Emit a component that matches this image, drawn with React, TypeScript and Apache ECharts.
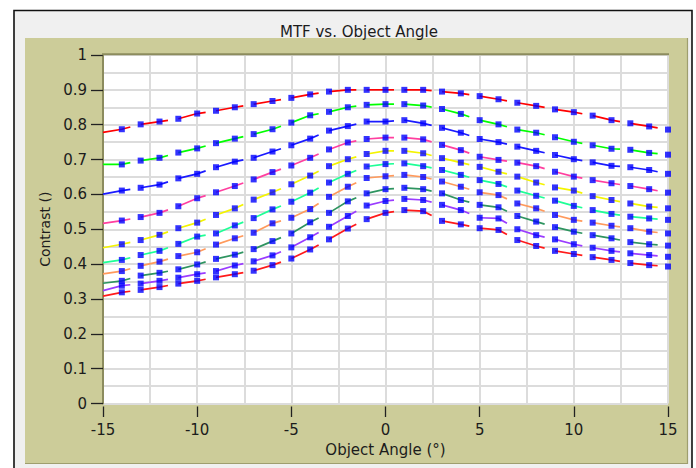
import React, { useEffect, useRef } from "react";
import * as echarts from "echarts";

const ANGLES = [-15, -14, -13, -12, -11, -10, -9, -8, -7, -6, -5, -4, -3, -2, -1, 0, 1, 2, 3, 4, 5, 6, 7, 8, 9, 10, 11, 12, 13, 14, 15];

const MTF_1 = [0.778, 0.787, 0.801, 0.809, 0.817, 0.832, 0.840, 0.850, 0.859, 0.868, 0.877, 0.887, 0.895, 0.900, 0.900, 0.900, 0.900, 0.900, 0.895, 0.890, 0.882, 0.873, 0.863, 0.854, 0.844, 0.836, 0.826, 0.813, 0.804, 0.795, 0.786];
const MTF_2 = [0.686, 0.686, 0.697, 0.705, 0.720, 0.732, 0.747, 0.760, 0.773, 0.787, 0.806, 0.827, 0.837, 0.850, 0.857, 0.859, 0.859, 0.855, 0.845, 0.831, 0.813, 0.801, 0.786, 0.777, 0.764, 0.751, 0.741, 0.731, 0.728, 0.719, 0.714];
const MTF_3 = [0.601, 0.611, 0.619, 0.628, 0.646, 0.659, 0.678, 0.694, 0.705, 0.723, 0.741, 0.760, 0.783, 0.796, 0.809, 0.809, 0.813, 0.804, 0.791, 0.777, 0.759, 0.750, 0.737, 0.725, 0.713, 0.701, 0.692, 0.682, 0.678, 0.670, 0.659];
const MTF_4 = [0.517, 0.525, 0.535, 0.547, 0.566, 0.589, 0.606, 0.624, 0.643, 0.664, 0.683, 0.705, 0.729, 0.749, 0.759, 0.763, 0.763, 0.758, 0.742, 0.727, 0.708, 0.699, 0.691, 0.681, 0.665, 0.651, 0.641, 0.632, 0.624, 0.615, 0.605];
const MTF_5 = [0.447, 0.457, 0.469, 0.484, 0.503, 0.519, 0.541, 0.560, 0.585, 0.606, 0.629, 0.654, 0.681, 0.701, 0.716, 0.725, 0.725, 0.718, 0.704, 0.691, 0.679, 0.665, 0.651, 0.634, 0.620, 0.611, 0.595, 0.584, 0.574, 0.565, 0.560];
const MTF_6 = [0.404, 0.412, 0.426, 0.438, 0.458, 0.479, 0.488, 0.511, 0.532, 0.557, 0.579, 0.605, 0.634, 0.659, 0.680, 0.687, 0.689, 0.681, 0.670, 0.656, 0.641, 0.630, 0.611, 0.596, 0.582, 0.567, 0.555, 0.544, 0.536, 0.531, 0.527];
const MTF_7 = [0.372, 0.380, 0.395, 0.407, 0.423, 0.434, 0.456, 0.474, 0.490, 0.517, 0.533, 0.558, 0.593, 0.622, 0.647, 0.652, 0.656, 0.650, 0.637, 0.622, 0.606, 0.598, 0.574, 0.560, 0.541, 0.527, 0.519, 0.510, 0.503, 0.493, 0.488];
const MTF_8 = [0.345, 0.352, 0.367, 0.375, 0.385, 0.399, 0.415, 0.427, 0.443, 0.466, 0.488, 0.520, 0.547, 0.580, 0.603, 0.615, 0.619, 0.615, 0.603, 0.584, 0.570, 0.563, 0.538, 0.522, 0.506, 0.493, 0.483, 0.474, 0.463, 0.457, 0.453];
const MTF_9 = [0.324, 0.338, 0.344, 0.352, 0.361, 0.371, 0.380, 0.396, 0.408, 0.425, 0.448, 0.477, 0.507, 0.538, 0.568, 0.581, 0.587, 0.584, 0.570, 0.555, 0.533, 0.531, 0.500, 0.483, 0.471, 0.457, 0.447, 0.438, 0.431, 0.426, 0.421];
const MTF_10 = [0.308, 0.319, 0.326, 0.334, 0.344, 0.352, 0.362, 0.371, 0.381, 0.397, 0.416, 0.442, 0.471, 0.502, 0.529, 0.547, 0.555, 0.552, 0.524, 0.514, 0.503, 0.498, 0.469, 0.452, 0.438, 0.429, 0.420, 0.412, 0.403, 0.397, 0.393];

const SERIES_VALUES = [MTF_1, MTF_2, MTF_3, MTF_4, MTF_5, MTF_6, MTF_7, MTF_8, MTF_9, MTF_10];
const LINE_COLORS = ["#FF0000", "#00FF00", "#1A1AFF", "#FF3F9F", "#F4F400", "#1EFF96", "#FF9A5C", "#2E9460", "#9A3CFF", "#FF1A1A"];

const TITLE = "MTF vs. Object Angle";
const X_NAME = "Object Angle (°)";
const Y_NAME = "Contrast ()";
const FONT = "DejaVu Sans";
const TEXT_COLOR = "#1c1c1c";

export default function App() {
  const ref = useRef<HTMLDivElement>(null);

  useEffect(() => {
    document.body.style.margin = "0";
    const chart = echarts.init(ref.current!, null, { renderer: "svg" });

    const series: any[] = [];
    SERIES_VALUES.forEach((vals, k) => {
      const pts = ANGLES.map((a, i) => [a, vals[i]]);
      series.push({
        type: "custom",
        name: "mtf" + (k + 1),
        coordinateSystem: "cartesian2d",
        data: pts,
        encode: { x: 0, y: 1 },
        z: 2,
        clip: false,
        silent: true,
        renderItem: (params: any, api: any) => {
          const i = params.dataIndex;
          if (i % 2 !== 0 || i + 1 >= pts.length) return { type: "group", children: [] };
          const p0 = api.coord(pts[i]);
          const p1 = api.coord(pts[i + 1]);
          const points: number[][] = [p0, p1];
          if (i + 2 < pts.length) {
            const p2 = api.coord(pts[i + 2]);
            points.push([p1[0] + 0.45 * (p2[0] - p1[0]), p1[1] + 0.45 * (p2[1] - p1[1])]);
          }
          return {
            type: "polyline",
            shape: { points },
            style: { stroke: LINE_COLORS[k], lineWidth: 1.7, fill: "none" },
          };
        },
      });
    });
    SERIES_VALUES.forEach((vals, k) => {
      series.push({
        type: "scatter",
        name: "pts" + (k + 1),
        symbol: "rect",
        symbolSize: 6,
        itemStyle: { color: "#0000FF" },
        data: ANGLES.slice(1).map((a, i) => [a, vals[i + 1]]),
        z: 3,
        clip: false,
        silent: true,
      });
    });

    const gridLine = { show: true, lineStyle: { color: "#DCDCDC", width: 2 } };

    chart.setOption({
      animation: false,
      backgroundColor: "#FFFFFF",
      textStyle: { fontFamily: FONT },
      title: {
        text: TITLE,
        left: 354,
        textAlign: "center",
        top: 19,
        textStyle: { fontFamily: FONT, fontSize: 15, fontWeight: "normal", color: TEXT_COLOR },
      },
      graphic: [
        { type: "rect", z: -5, shape: { x: 14, y: 10.5, width: 678, height: 470 }, style: { fill: "#F0F0F0", stroke: "#111111", lineWidth: 1.6 } },
        { type: "rect", z: -4, shape: { x: 25, y: 38, width: 663, height: 426 }, style: { fill: "#CCCC99", stroke: "none" } },
        { type: "line", z: -3, shape: { x1: 687.5, y1: 38, x2: 687.5, y2: 464 }, style: { stroke: "#9E9E6E", lineWidth: 1.2 } },
        { type: "line", z: -3, shape: { x1: 25, y1: 463.5, x2: 688, y2: 463.5 }, style: { stroke: "#9E9E6E", lineWidth: 1.2 } },
        { type: "line", z: 10, shape: { x1: 102, y1: 54.2, x2: 669, y2: 54.2 }, style: { stroke: "#8C8C5E", lineWidth: 2 } },
      ],
      grid: {
        left: 103,
        right: 28,
        top: 55,
        bottom: 64.5,
        show: true,
        backgroundColor: "#FFFFFF",
        borderWidth: 0,
      },
      xAxis: {
        type: "value",
        min: -15,
        max: 15,
        interval: 5,
        offset: 3,
        axisLine: { show: false, onZero: false },
        axisTick: { show: true, length: 10.5, lineStyle: { color: "#222222", width: 1.3 } },
        axisLabel: { margin: 16, fontSize: 15, color: TEXT_COLOR, fontFamily: FONT },
        splitLine: gridLine,
        minorTick: { show: false, splitNumber: 2 },
        minorSplitLine: gridLine,
        name: X_NAME,
        nameLocation: "middle",
        nameGap: 35,
        nameTextStyle: { fontSize: 15, color: TEXT_COLOR, fontFamily: FONT },
      },
      yAxis: {
        type: "value",
        min: 0,
        max: 1,
        interval: 0.1,
        axisLine: { show: true, onZero: false, lineStyle: { color: "#8C8C5E", width: 2 } },
        axisTick: { show: true, length: 12, lineStyle: { color: "#222222", width: 1.3 } },
        axisLabel: { margin: 16, fontSize: 15, color: TEXT_COLOR, fontFamily: FONT },
        splitLine: gridLine,
        minorTick: { show: false, splitNumber: 2 },
        minorSplitLine: gridLine,
        name: Y_NAME,
        nameLocation: "middle",
        nameGap: 51,
        nameTextStyle: { fontSize: 14, color: TEXT_COLOR, fontFamily: FONT },
      },
      series,
    });

    return () => chart.dispose();
  }, []);

  return <div ref={ref} style={{ position: "absolute", left: 0, top: 0, width: 696, height: 468 }} />;
}
